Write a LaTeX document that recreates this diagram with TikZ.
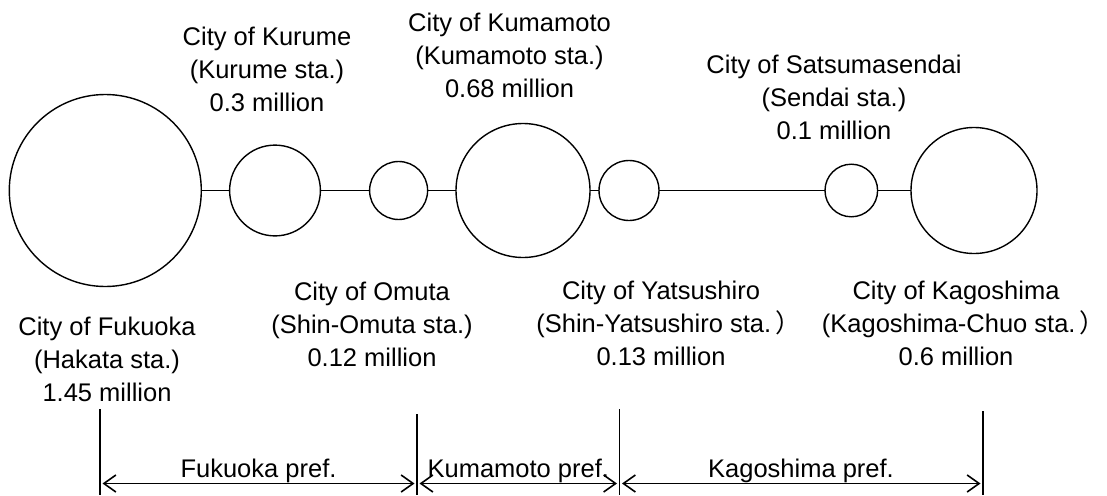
\documentclass[tikz,border=0pt]{standalone}
\usepackage{fontspec}
\setmainfont{Liberation Sans}
\newfontfamily\cjk{Noto Sans CJK JP}
\usetikzlibrary{arrows.meta}
\newcommand{\fwparen}{\makebox[0.4em][l]{\cjk ）}}
\begin{document}
\begin{tikzpicture}[x=1pt,y=-1pt,
  city/.style={circle,draw,line width=1.4pt,inner sep=0pt,outer sep=0pt,minimum size=#1},
  lbl/.style={align=center,anchor=north,inner sep=0pt,font={\fontsize{25.5}{33}\selectfont}},
  pref/.style={anchor=base,inner sep=0pt,font={\fontsize{25.5}{33}\selectfont}},
  link/.style={line width=1.6pt},
  tick/.style={line width=1.6pt},
  span/.style={line width=1.6pt,{Straight Barb[length=12pt,width=17pt]}-{Straight Barb[length=12pt,width=17pt]},shorten <=2.5pt,shorten >=2.5pt}]
\useasboundingbox (0,0) rectangle (1107,495);
% stations
\node[city=192pt] (fuk) at (105.3,190.5) {};
\node[city=90.8pt] (kur) at (275,190.5) {};
\node[city=58pt] (omu) at (398.6,190.5) {};
\node[city=134pt] (kum) at (523,190.5) {};
\node[city=60pt] (yat) at (629,190.5) {};
\node[city=52.6pt] (sen) at (851.3,190.5) {};
\node[city=126pt] (kag) at (974,190.5) {};
% line
\draw[link] (fuk.east) -- (kur.west);
\draw[link] (kur.east) -- (omu.west);
\draw[link] (omu.east) -- (kum.west);
\draw[link] (kum.east) -- (yat.west);
\draw[link] (yat.east) -- (sen.west);
\draw[link] (sen.east) -- (kag.west);
% labels
\node[lbl] (lfuk) at (107,317) {City of Fukuoka\\(Hakata sta.)\\1.45 million};
\node[lbl] (lkur) at (267,27) {City of Kurume\\(Kurume sta.)\\0.3 million};
\node[lbl] (lomu) at (372,282) {City of Omuta\\(Shin-Omuta sta.)\\0.12 million};
\node[lbl] (lkum) at (509.5,13) {City of Kumamoto\\(Kumamoto sta.)\\0.68 million};
\node[lbl] (lyat) at (661,281) {City of Yatsushiro\\(Shin-Yatsushiro sta.\,\fwparen\\0.13 million};
\node[lbl] (lsen) at (834,55) {City of Satsumasendai\\(Sendai sta.)\\0.1 million};
\node[lbl] (lkag) at (956,281) {City of Kagoshima\\(Kagoshima-Chuo sta.\,\fwparen\\0.6 million};
% prefecture boundaries
\coordinate (t1) at (100,409);   \coordinate (u1) at (100,495);
\coordinate (t2) at (417,414);   \coordinate (u2) at (417,495);
\coordinate (t3) at (619.5,409); \coordinate (u3) at (619.5,495);
\coordinate (t4) at (983,411);   \coordinate (u4) at (983,495);
\draw[tick] (t1) -- (u1);
\draw[tick] (t2) -- (u2);
\draw[tick] (t3) -- (u3);
\draw[tick] (t4) -- (u4);
\coordinate (a1) at (100,483.5);
\coordinate (a2) at (417,483.5);
\coordinate (a3) at (619.5,483.5);
\coordinate (a4) at (983,483.5);
\draw[span] (a1) -- (a2);
\draw[span] (a2) -- (a3);
\draw[span] (a3) -- (a4);
\node[pref] (pfuk) at (258.5,477) {Fukuoka pref.};
\node[pref] (pkum) at (518.3,477) {Kumamoto pref.};
\node[pref] (pkag) at (801,477) {Kagoshima pref.};
\end{tikzpicture}
\end{document}
